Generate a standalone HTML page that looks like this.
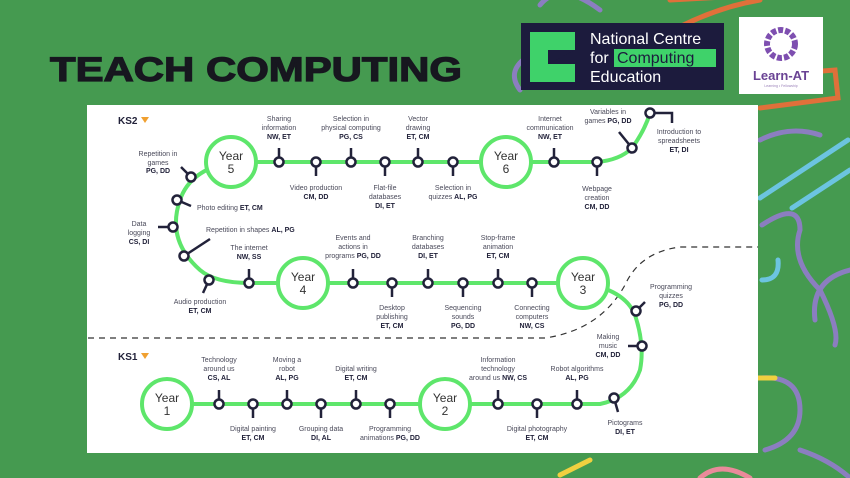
<!DOCTYPE html>
<html><head><meta charset="utf-8"><style>
html,body{margin:0;padding:0;width:850px;height:478px;overflow:hidden;background:#459a50}
svg{display:block}
text{font-family:"Liberation Sans",sans-serif;fill:#4a4a5a}
.l{font-size:7px;text-anchor:middle}
.b{font-weight:bold;fill:#22223a}
.y{font-size:12px;text-anchor:middle;fill:#333}
</style></head><body>
<svg width="850" height="478" viewBox="0 0 850 478">
<rect width="850" height="478" fill="#459a50"/>
<g fill="none" stroke-width="5" stroke-linecap="round">
<path d="M640 50 Q700 10 760 0" stroke="#e0703a"/>
<path d="M670 0 L760 -5" stroke="#e0703a"/>
<path d="M760 108 L838 98 L835 70 L770 75" stroke="#e0703a"/>
<path d="M760 140 Q790 125 820 135" stroke="#8b7ec0"/>
<path d="M760 198 L848 140" stroke="#6cc4e0"/>
<path d="M792 208 L850 170" stroke="#6cc4e0"/>
<path d="M762 225 Q800 200 800 230 Q790 260 820 290 Q840 330 835 345" stroke="#8b7ec0"/>
<path d="M762 280 Q780 280 778 260" stroke="#6cc4e0"/>
<path d="M850 270 Q810 280 815 320" stroke="#8b7ec0"/>
<path d="M760 378 Q800 375 800 410 Q800 440 765 450" stroke="#8b7ec0"/>
<path d="M758 378 L775 378" stroke="#f0d040"/>
<path d="M800 450 Q830 460 850 478" stroke="#8b7ec0"/>
<path d="M540 5 Q560 -20 600 10" stroke="#8b7ec0"/>
<path d="M520 90 Q505 70 530 55" stroke="#8b7ec0"/>
<path d="M560 475 L590 460" stroke="#f0d040"/>
<path d="M700 478 Q720 460 750 478" stroke="#e98a9a"/>
</g>
<text x="50" y="81" font-size="34" font-weight="bold" textLength="412" lengthAdjust="spacingAndGlyphs" style="fill:#17171f;stroke:#17171f;stroke-width:1.2">TEACH COMPUTING</text>
<rect x="521" y="23" width="203" height="67" fill="#1c1b3d"/>
<polygon points="530,32 575,32 575,50 548,50 548,64 575,64 575,82 530,82" fill="#3fd26a"/>
<polygon points="548,50 575,50 548,64" fill="#1c1b3d" opacity=".5"/>
<text x="590" y="44" font-size="16" style="fill:#fff">National Centre</text>
<text x="590" y="63" font-size="16" style="fill:#fff">for</text>
<rect x="614" y="49" width="102" height="18" fill="#3fd26a"/>
<text x="617" y="63" font-size="16" style="fill:#1c1b3d">Computing</text>
<text x="590" y="82" font-size="16" style="fill:#fff">Education</text>
<rect x="739" y="17" width="84" height="77" fill="#fff"/>
<circle cx="781" cy="44" r="14" fill="none" stroke="#7e4fb0" stroke-width="6" stroke-dasharray="5 2"/>
<text x="781" y="80" font-size="13" font-weight="bold" text-anchor="middle" style="fill:#6a4394">Learn-AT</text>
<text x="781" y="87" font-size="3.5" text-anchor="middle" style="fill:#9a80b8">Learning • Fellowship</text>
<rect x="87" y="105" width="671" height="348" fill="#fff"/>
<path d="M88 338 L545 338 Q600 330 625 285 Q640 252 680 247 L758 247" fill="none" stroke="#333" stroke-width="1.2" stroke-dasharray="6 5"/>
<text x="118" y="124" font-size="10" font-weight="bold" style="fill:#22223a">KS2</text>
<polygon points="141,117 149,117 145,123" fill="#f0a030"/>
<text x="118" y="360" font-size="10" font-weight="bold" style="fill:#22223a">KS1</text>
<polygon points="141,353 149,353 145,359" fill="#f0a030"/>
<g fill="none" stroke="#5ee66b" stroke-width="4">
<path d="M231 162 L597 162 Q620 160 632 148 Q645 130 650 113"/>
<path d="M231 162 Q190 170 180 200 Q166 240 200 270 Q215 283 250 283 L583 283 Q625 290 635 315 Q645 345 640 370 Q630 398 600 404 L167 404"/>
</g>
<g fill="#fff" stroke="#5ee66b" stroke-width="4">
<circle cx="231" cy="162" r="25"/><circle cx="506" cy="162" r="25"/>
<circle cx="303" cy="283" r="25"/><circle cx="583" cy="283" r="25"/>
<circle cx="167" cy="404" r="25"/><circle cx="445" cy="404" r="25"/>
</g>
<text class="y" x="231" y="160">Year</text><text class="y" x="231" y="173">5</text>
<text class="y" x="506" y="160">Year</text><text class="y" x="506" y="173">6</text>
<text class="y" x="303" y="281">Year</text><text class="y" x="303" y="294">4</text>
<text class="y" x="583" y="281">Year</text><text class="y" x="583" y="294">3</text>
<text class="y" x="167" y="402">Year</text><text class="y" x="167" y="415">1</text>
<text class="y" x="445" y="402">Year</text><text class="y" x="445" y="415">2</text>
<g stroke="#22223a" stroke-width="2.5" fill="#fff">
<line x1="279" y1="162" x2="279" y2="148"/><circle cx="279" cy="162" r="4.5"/>
<line x1="316" y1="162" x2="316" y2="176"/><circle cx="316" cy="162" r="4.5"/>
<line x1="351" y1="162" x2="351" y2="148"/><circle cx="351" cy="162" r="4.5"/>
<line x1="385" y1="162" x2="385" y2="176"/><circle cx="385" cy="162" r="4.5"/>
<line x1="418" y1="162" x2="418" y2="148"/><circle cx="418" cy="162" r="4.5"/>
<line x1="453" y1="162" x2="453" y2="176"/><circle cx="453" cy="162" r="4.5"/>
<line x1="554" y1="162" x2="554" y2="148"/><circle cx="554" cy="162" r="4.5"/>
<line x1="597" y1="162" x2="597" y2="176"/><circle cx="597" cy="162" r="4.5"/>
<line x1="632" y1="148" x2="619" y2="132"/><circle cx="632" cy="148" r="4.5"/>
<polyline points="650,113 672,113 672,123" fill="none"/><circle cx="650" cy="113" r="4.5"/>
<line x1="191" y1="177" x2="181" y2="167"/><circle cx="191" cy="177" r="4.5"/>
<line x1="177" y1="200" x2="191" y2="206"/><circle cx="177" cy="200" r="4.5"/>
<line x1="173" y1="227" x2="158" y2="227"/><circle cx="173" cy="227" r="4.5"/>
<line x1="184" y1="256" x2="210" y2="239"/><circle cx="184" cy="256" r="4.5"/>
<line x1="209" y1="280" x2="203" y2="293"/><circle cx="209" cy="280" r="4.5"/>
<line x1="249" y1="283" x2="249" y2="269"/><circle cx="249" cy="283" r="4.5"/>
<line x1="353" y1="283" x2="353" y2="269"/><circle cx="353" cy="283" r="4.5"/>
<line x1="392" y1="283" x2="392" y2="297"/><circle cx="392" cy="283" r="4.5"/>
<line x1="428" y1="283" x2="428" y2="269"/><circle cx="428" cy="283" r="4.5"/>
<line x1="463" y1="283" x2="463" y2="297"/><circle cx="463" cy="283" r="4.5"/>
<line x1="498" y1="283" x2="498" y2="269"/><circle cx="498" cy="283" r="4.5"/>
<line x1="532" y1="283" x2="532" y2="297"/><circle cx="532" cy="283" r="4.5"/>
<line x1="636" y1="311" x2="645" y2="302"/><circle cx="636" cy="311" r="4.5"/>
<line x1="642" y1="346" x2="628" y2="346"/><circle cx="642" cy="346" r="4.5"/>
<line x1="614" y1="398" x2="618" y2="412"/><circle cx="614" cy="398" r="4.5"/>
<line x1="219" y1="404" x2="219" y2="390"/><circle cx="219" cy="404" r="4.5"/>
<line x1="253" y1="404" x2="253" y2="418"/><circle cx="253" cy="404" r="4.5"/>
<line x1="287" y1="404" x2="287" y2="390"/><circle cx="287" cy="404" r="4.5"/>
<line x1="321" y1="404" x2="321" y2="418"/><circle cx="321" cy="404" r="4.5"/>
<line x1="356" y1="404" x2="356" y2="390"/><circle cx="356" cy="404" r="4.5"/>
<line x1="390" y1="404" x2="390" y2="418"/><circle cx="390" cy="404" r="4.5"/>
<line x1="498" y1="404" x2="498" y2="390"/><circle cx="498" cy="404" r="4.5"/>
<line x1="537" y1="404" x2="537" y2="418"/><circle cx="537" cy="404" r="4.5"/>
<line x1="577" y1="404" x2="577" y2="390"/><circle cx="577" cy="404" r="4.5"/>
</g>
<text class="l" x="279" y="121">Sharing</text><text class="l" x="279" y="130">information</text><text class="l b" x="279" y="139">NW, ET</text>
<text class="l" x="351" y="121">Selection in</text><text class="l" x="351" y="130">physical computing</text><text class="l b" x="351" y="139">PG, CS</text>
<text class="l" x="418" y="121">Vector</text><text class="l" x="418" y="130">drawing</text><text class="l b" x="418" y="139">ET, CM</text>
<text class="l" x="316" y="190">Video production</text><text class="l b" x="316" y="199">CM, DD</text>
<text class="l" x="385" y="190">Flat-file</text><text class="l" x="385" y="199">databases</text><text class="l b" x="385" y="208">DI, ET</text>
<text class="l" x="453" y="190">Selection in</text><text class="l" x="453" y="199">quizzes <tspan class="b">AL, PG</tspan></text>
<text class="l" x="550" y="121">Internet</text><text class="l" x="550" y="130">communication</text><text class="l b" x="550" y="139">NW, ET</text>
<text class="l" x="597" y="191">Webpage</text><text class="l" x="597" y="200">creation</text><text class="l b" x="597" y="209">CM, DD</text>
<text class="l" x="608" y="114">Variables in</text><text class="l" x="608" y="123">games <tspan class="b">PG, DD</tspan></text>
<text class="l" x="679" y="134">Introduction to</text><text class="l" x="679" y="143">spreadsheets</text><text class="l b" x="679" y="152">ET, DI</text>
<text class="l" x="158" y="156">Repetition in</text><text class="l" x="158" y="165">games</text><text class="l b" x="158" y="173">PG, DD</text>
<text class="l" x="197" y="210" style="text-anchor:start">Photo editing <tspan class="b">ET, CM</tspan></text>
<text class="l" x="139" y="226">Data</text><text class="l" x="139" y="235">logging</text><text class="l b" x="139" y="244">CS, DI</text>
<text class="l" x="206" y="232" style="text-anchor:start">Repetition in shapes <tspan class="b">AL, PG</tspan></text>
<text class="l" x="249" y="250">The internet</text><text class="l b" x="249" y="259">NW, SS</text>
<text class="l" x="200" y="304">Audio production</text><text class="l b" x="200" y="313">ET, CM</text>
<text class="l" x="353" y="240">Events and</text><text class="l" x="353" y="249">actions in</text><text class="l" x="353" y="258">programs <tspan class="b">PG, DD</tspan></text>
<text class="l" x="428" y="240">Branching</text><text class="l" x="428" y="249">databases</text><text class="l b" x="428" y="258">DI, ET</text>
<text class="l" x="498" y="240">Stop-frame</text><text class="l" x="498" y="249">animation</text><text class="l b" x="498" y="258">ET, CM</text>
<text class="l" x="392" y="310">Desktop</text><text class="l" x="392" y="319">publishing</text><text class="l b" x="392" y="328">ET, CM</text>
<text class="l" x="463" y="310">Sequencing</text><text class="l" x="463" y="319">sounds</text><text class="l b" x="463" y="328">PG, DD</text>
<text class="l" x="532" y="310">Connecting</text><text class="l" x="532" y="319">computers</text><text class="l b" x="532" y="328">NW, CS</text>
<text class="l" x="671" y="289">Programming</text><text class="l" x="671" y="298">quizzes</text><text class="l b" x="671" y="307">PG, DD</text>
<text class="l" x="608" y="339">Making</text><text class="l" x="608" y="348">music</text><text class="l b" x="608" y="357">CM, DD</text>
<text class="l" x="219" y="362">Technology</text><text class="l" x="219" y="371">around us</text><text class="l b" x="219" y="380">CS, AL</text>
<text class="l" x="287" y="362">Moving a</text><text class="l" x="287" y="371">robot</text><text class="l b" x="287" y="380">AL, PG</text>
<text class="l" x="356" y="371">Digital writing</text><text class="l b" x="356" y="380">ET, CM</text>
<text class="l" x="498" y="362">Information</text><text class="l" x="498" y="371">technology</text><text class="l" x="498" y="380">around us <tspan class="b">NW, CS</tspan></text>
<text class="l" x="577" y="371">Robot algorithms</text><text class="l b" x="577" y="380">AL, PG</text>
<text class="l" x="253" y="431">Digital painting</text><text class="l b" x="253" y="440">ET, CM</text>
<text class="l" x="321" y="431">Grouping data</text><text class="l b" x="321" y="440">DI, AL</text>
<text class="l" x="390" y="431">Programming</text><text class="l" x="390" y="440">animations <tspan class="b">PG, DD</tspan></text>
<text class="l" x="537" y="431">Digital photography</text><text class="l b" x="537" y="440">ET, CM</text>
<text class="l" x="625" y="425">Pictograms</text><text class="l b" x="625" y="434">DI, ET</text>
</svg>
</body></html>
